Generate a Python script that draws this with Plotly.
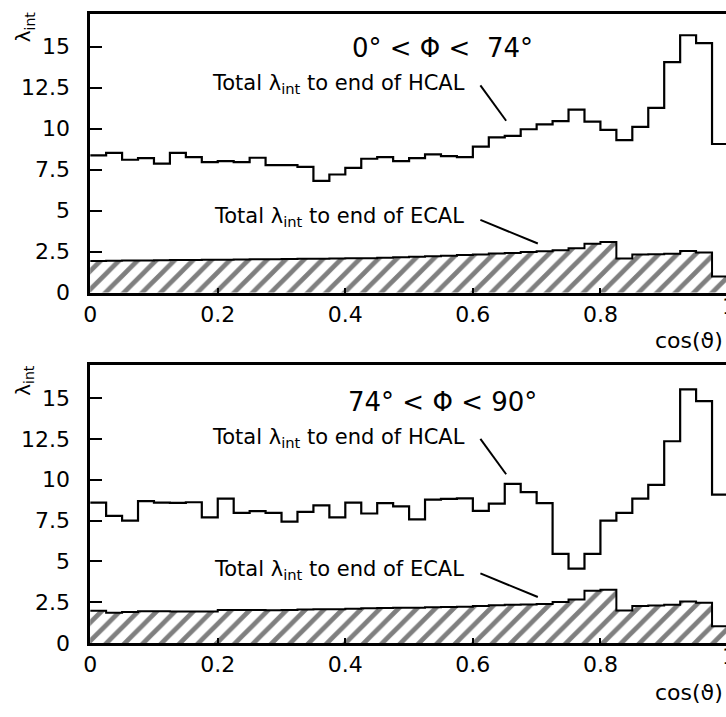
import plotly.graph_objects as go

# ---- data ----
bin_width = 0.025
bin_edges = [round(i * bin_width, 3) for i in range(41)]

hcal_top = [8.36, 8.52, 8.10, 8.20, 7.86, 8.52, 8.26, 7.96, 8.02, 7.96,
            8.22, 7.77, 7.77, 7.66, 6.81, 7.20, 7.60, 8.16, 8.26, 8.02,
            8.20, 8.43, 8.32, 8.26, 8.90, 9.46, 9.56, 9.96, 10.26, 10.46,
            11.16, 10.42, 9.92, 9.30, 10.10, 11.26, 14.05, 15.69, 15.21, 9.06]
ecal_top = [1.92, 1.94, 1.95, 1.96, 1.97, 1.98, 1.99, 2.00, 2.01, 2.02,
            2.03, 2.04, 2.05, 2.06, 2.07, 2.08, 2.09, 2.10, 2.12, 2.15,
            2.18, 2.21, 2.25, 2.29, 2.33, 2.38, 2.42, 2.47, 2.52, 2.58,
            2.70, 2.98, 3.08, 2.08, 2.32, 2.34, 2.37, 2.53, 2.44, 0.98]

hcal_bot = [8.60, 7.79, 7.49, 8.69, 8.60, 8.58, 8.62, 7.69, 8.84, 7.97,
            8.07, 7.97, 7.43, 8.03, 8.43, 7.69, 8.60, 7.93, 8.57, 8.37,
            7.57, 8.78, 8.82, 8.85, 8.09, 8.54, 9.74, 9.24, 8.57, 5.46,
            4.56, 5.46, 7.49, 7.97, 8.84, 9.68, 12.35, 15.52, 14.80, 9.08]
ecal_bot = [1.98, 1.86, 1.90, 1.95, 1.95, 1.93, 1.93, 1.94, 2.02, 2.03,
            2.02, 2.01, 2.03, 2.05, 2.07, 2.08, 2.10, 2.14, 2.15, 2.16,
            2.17, 2.19, 2.21, 2.23, 2.27, 2.31, 2.35, 2.36, 2.40, 2.51,
            2.67, 3.21, 3.27, 2.00, 2.27, 2.30, 2.35, 2.55, 2.47, 1.04]

panel_titles = ["0° < Φ <\u00a0\u00a074°", "74° < Φ < 90°"]
hcal_label = "Total λ<sub>int</sub> to end of HCAL"
ecal_label = "Total λ<sub>int</sub> to end of ECAL"
ytick_vals = [0, 2.5, 5, 7.5, 10, 12.5, 15]
ytick_text = ["0", "2.5", "5", "7.5", "10", "12.5", "15"]
xtick_vals = [0, 0.2, 0.4, 0.6, 0.8]
xtick_text = ["0", "0.2", "0.4", "0.6", "0.8"]

W, H = 726, 717
FONT = "DejaVu Sans"


def px(x):
    return x / W


def py(y):
    return 1 - y / H


centers = [(bin_edges[i] + bin_edges[i + 1]) / 2 for i in range(40)]

fig = go.Figure()

panels = [
    dict(hcal=hcal_top, ecal=ecal_top, xa="x", ya="y", top=14, bottom=298, dy=0,
         title=panel_titles[0]),
    dict(hcal=hcal_bot, ecal=ecal_bot, xa="x2", ya="y2", top=372, bottom=655, dy=360,
         title=panel_titles[1]),
]

annotations = []
shapes = []


def ann(text, x, y, size, xanchor="center", angle=0):
    return dict(text=text, x=px(x), y=py(y), xref="paper", yref="paper",
                xanchor=xanchor, yanchor="middle", showarrow=False, textangle=angle,
                font=dict(size=size, family=FONT, color="black"))


for i, p in enumerate(panels):
    # hatched ECAL histogram
    fig.add_trace(go.Bar(
        x=centers, y=p["ecal"], width=bin_width, xaxis=p["xa"], yaxis=p["ya"],
        marker=dict(color="white", line=dict(width=0),
                    pattern=dict(shape="/", fgcolor="black", bgcolor="white",
                                 size=13, solidity=0.36)),
        showlegend=False, hoverinfo="skip"))
    # ECAL outline
    fig.add_trace(go.Scatter(
        x=bin_edges, y=p["ecal"] + [p["ecal"][-1]], mode="lines",
        line=dict(shape="hv", color="black", width=2),
        xaxis=p["xa"], yaxis=p["ya"], showlegend=False, hoverinfo="skip"))
    # HCAL step histogram
    fig.add_trace(go.Scatter(
        x=bin_edges, y=p["hcal"] + [p["hcal"][-1]], mode="lines",
        line=dict(shape="hv", color="black", width=2.2),
        xaxis=p["xa"], yaxis=p["ya"], showlegend=False, hoverinfo="skip"))

    dy = p["dy"]
    annotations += [
        ann(p["title"], 440, 49 + dy, 26),
        ann(hcal_label, 335, 86 + dy, 21),
        ann(ecal_label, 335, 221 + dy, 21),
        ann("λ<sub>int</sub>", 17, 27 + dy, 20, angle=-90),
        ann("cos(ϑ)", 652, 347 + dy - (2 if i else 0), 22, xanchor="left"),
        ann("1", 729, p["bottom"] + 14, 22),
    ]
    shapes += [
        dict(type="line", xref="paper", yref="paper", x0=px(478), y0=py(87 + dy),
             x1=px(504), y1=py(123 + dy), line=dict(color="black", width=2)),
        dict(type="line", xref="paper", yref="paper", x0=px(478), y0=py(224 + dy),
             x1=px(536), y1=py(248 + dy), line=dict(color="black", width=2)),
    ]

xaxis_common = dict(range=[0, (W - 84) / 644], showgrid=False, zeroline=False,
                    showline=True, linecolor="black", linewidth=2.5, mirror=True,
                    ticks="inside", ticklen=5, tickwidth=1.5, tickcolor="black",
                    tickvals=xtick_vals, ticktext=xtick_text, ticklabelstandoff=0,
                    tickfont=dict(size=22, family=FONT, color="black"))
yaxis_common = dict(range=[0, 17], showgrid=False, zeroline=False,
                    showline=True, linecolor="black", linewidth=2.5, mirror=False,
                    ticks="inside", ticklen=12, tickwidth=2, tickcolor="black",
                    tickvals=ytick_vals, ticktext=ytick_text, ticklabelstandoff=13,
                    tickfont=dict(size=22, family=FONT, color="black"))

fig.update_layout(
    width=W, height=H, autosize=False,
    margin=dict(l=0, r=0, t=0, b=0),
    paper_bgcolor="white", plot_bgcolor="white",
    bargap=0, barmode="overlay",
    xaxis=dict(domain=[px(84), 1], anchor="y", **xaxis_common),
    yaxis=dict(domain=[py(298), py(14)], anchor="x", **yaxis_common),
    xaxis2=dict(domain=[px(84), 1], anchor="y2", **xaxis_common),
    yaxis2=dict(domain=[py(655), py(372)], anchor="x2", **yaxis_common),
    annotations=annotations,
    shapes=shapes,
)

fig.write_html("out.html")
